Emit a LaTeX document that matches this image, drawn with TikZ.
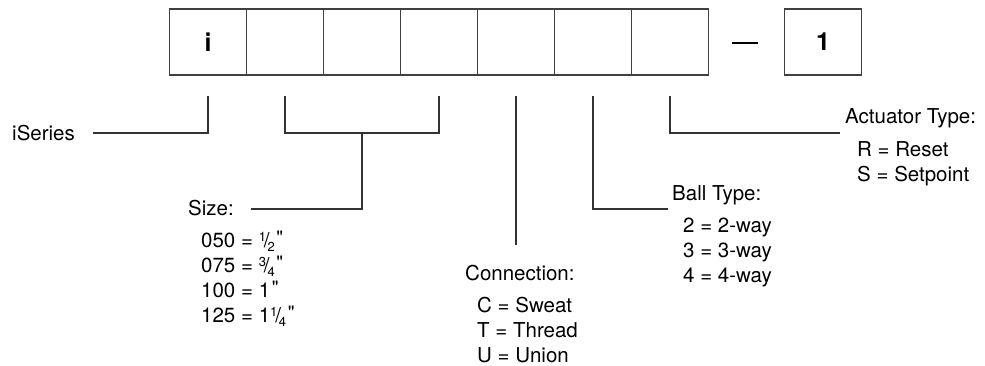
\documentclass[tikz,border=0pt]{standalone}
\usepackage{fontspec}
\setmainfont{TeX Gyre Heros}
\newfontfamily\rawfont{TeX Gyre Heros}
\usetikzlibrary{positioning}

\newcommand{\frc}[2]{\smash{\raisebox{.55ex}{\fontsize{13}{13}\selectfont #1}}\kern-.1em/\kern-.1em\smash{\raisebox{-.4ex}{\fontsize{13}{13}\selectfont #2}}}
\newcommand{\inch}{\kern.08em\smash{\raisebox{.3ex}{\rawfont\fontsize{19}{19}\selectfont"}}}

\begin{document}
\fontsize{20.5}{25}\selectfont
\begin{tikzpicture}[x=1pt,y=-1pt,
  cell/.style={draw=black!75,line width=1.3pt,minimum width=77pt,minimum height=66pt,inner sep=0pt,font=\fontsize{25}{25}\selectfont\bfseries},
  txt/.style={inner sep=0pt,anchor=west,text height=.72em,text depth=0pt},
  lead/.style={draw=black!80,line width=1.2pt}]
\useasboundingbox (0,0) rectangle (985,366);
% model code boxes
\foreach \k/\t in {1/i,2/{},3/{},4/{},5/{},6/{},7/{}}
  \node[cell] (b\k) at ({131+77*\k},42) {\t};
\node[inner sep=0pt] (dash) at (745,43) {\rule{26pt}{2pt}};
\node[cell] (b8) at (823,42) {1};
\foreach \k in {1,2,4,5,6,7}
  \coordinate (t\k) at ([yshift=-20pt]b\k.south);
% line ends
\coordinate (e1) at (93,133);
\coordinate (k2) at (362,133);
\coordinate (e2) at (251,209);
\coordinate (e3) at (516,245);
\coordinate (e4) at (668,209);
\coordinate (e5) at (840,133);
\draw[lead] (t1) |- (e1);
\draw[lead] (t2) |- (k2) -| (t4);
\draw[lead] (k2) |- (e2);
\draw[lead] (t5) -- (e3);
\draw[lead] (t6) |- (e4);
\draw[lead] (t7) |- (e5);
% labels
\node[txt] (ser) at (12,133) {iSeries};
\node[txt] (size) at (188,208) {Size:};
\foreach \t [count=\k] in {050 = \frc12\inch,075 = \frc34\inch,100 = 1\inch,125 = 1\frc14\inch}
  \node[txt] (sz\k) at (201,{215+25*\k}) {\t};
\node[txt] (con) at (465,273) {Connection:};
\foreach \t [count=\k] in {C = Sweat,T = Thread,U = Union}
  \node[txt] (con\k) at (477,{280+25*\k}) {\t};
\node[txt] (ball) at (672,193) {Ball Type:};
\foreach \t [count=\k] in {2 = 2-way,3 = 3-way,4 = 4-way}
  \node[txt] (ball\k) at (683,{200+25*\k}) {\t};
\node[txt] (act) at (845,116) {Actuator Type:};
\foreach \t [count=\k] in {R = Reset,S = Setpoint}
  \node[txt] (act\k) at (857,{124+25*\k}) {\t};
\end{tikzpicture}
\end{document}
